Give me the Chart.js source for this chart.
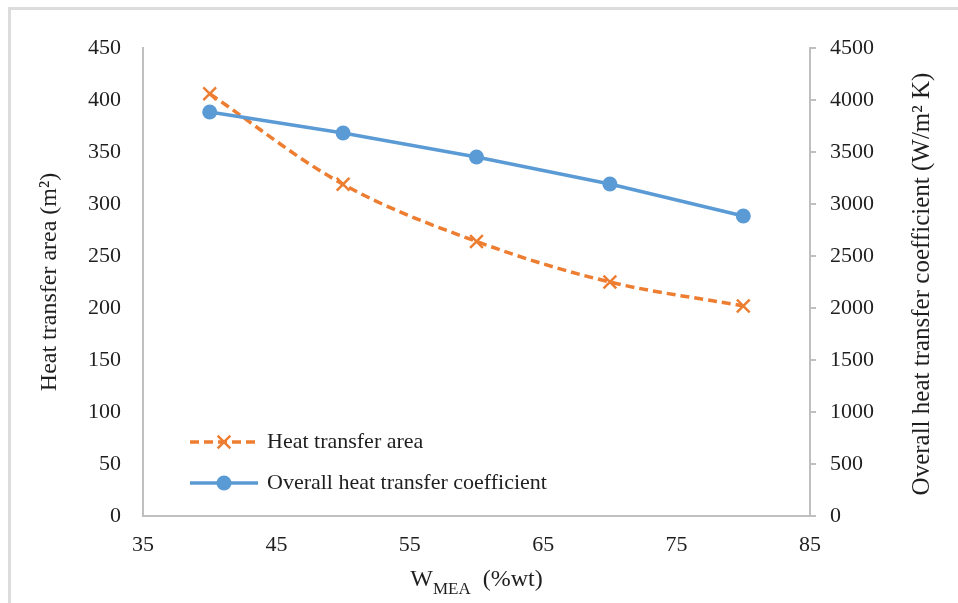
<!DOCTYPE html>
<html>
<head>
<meta charset="utf-8">
<script src="https://cdn.jsdelivr.net/npm/chart.js@4"></script>
<style>
  body { margin: 0; background: #fff; }
  #wrap { width: 958px; height: 603px; }
</style>
</head>
<body>
<div id="wrap"><canvas id="myChart" width="958" height="603"></canvas></div>
<script>
// data
const wMEA = [40, 50, 60, 70, 80];
const heatArea = [406, 319, 264, 225, 202];
const heatCoeff = [3885, 3683, 3452, 3192, 2885];
const xTicks = [35, 45, 55, 65, 75, 85];
const seriesNames = ['Heat transfer area', 'Overall heat transfer coefficient'];

const FONT = "'Liberation Serif', 'Times New Roman', serif";
const TEXT = '#1f1f1f';
const AXIS = '#bfbfbf';

// frame, right / bottom titles and legend drawn by hand
const extras = {
  id: 'extras',
  beforeDraw(chart) {
    const ctx = chart.ctx;
    ctx.save();
    ctx.fillStyle = '#dcdcdc';
    ctx.fillRect(8, 7, 3, 596);
    ctx.fillRect(8, 7, 950, 3);
    ctx.restore();
  },
  afterDraw(chart) {
    const ctx = chart.ctx;
    const a = chart.chartArea;
    ctx.save();
    ctx.fillStyle = TEXT;

    // right axis title, reads bottom to top
    ctx.save();
    ctx.translate(922, (a.top + a.bottom) / 2 + 2);
    ctx.rotate(-Math.PI / 2);
    ctx.font = '25px ' + FONT;
    ctx.textAlign = 'center';
    ctx.textBaseline = 'middle';
    ctx.fillText('Overall heat transfer coefficient (W/m² K)', 0, 0);
    ctx.restore();

    // x axis title with subscript
    const big = '24px ' + FONT, small = '17px ' + FONT;
    ctx.font = big;
    const wW = ctx.measureText('W').width;
    const wRest = ctx.measureText('  (%wt)').width;
    ctx.font = small;
    const wSub = ctx.measureText('MEA').width;
    let x = (a.left + a.right) / 2 - (wW + wSub + wRest) / 2;
    const base = 586;
    ctx.textAlign = 'left';
    ctx.textBaseline = 'alphabetic';
    ctx.font = big;
    ctx.fillText('W', x, base);
    x += wW;
    ctx.font = small;
    ctx.fillText('MEA', x, base + 8);
    x += wSub;
    ctx.font = big;
    ctx.fillText('  (%wt)', x, base);

    // legend
    const rows = [a.bottom - 74, a.bottom - 33];
    chart.data.datasets.forEach((ds, i) => {
      const y = rows[i];
      const x0 = a.left + 47, x1 = a.left + 115;
      ctx.strokeStyle = ds.borderColor;
      ctx.lineWidth = ds.borderWidth;
      ctx.setLineDash(ds.borderDash || []);
      ctx.beginPath();
      ctx.moveTo(x0, y);
      ctx.lineTo(x1, y);
      ctx.stroke();
      ctx.setLineDash([]);
      const cx = (x0 + x1) / 2;
      if (ds.pointStyle === 'crossRot') {
        const r = ds.pointRadius * 0.707;
        ctx.lineWidth = ds.pointBorderWidth;
        ctx.beginPath();
        ctx.moveTo(cx - r, y - r);
        ctx.lineTo(cx + r, y + r);
        ctx.moveTo(cx - r, y + r);
        ctx.lineTo(cx + r, y - r);
        ctx.stroke();
      } else {
        ctx.fillStyle = ds.pointBackgroundColor;
        ctx.beginPath();
        ctx.arc(cx, y, ds.pointRadius, 0, Math.PI * 2);
        ctx.fill();
      }
      ctx.fillStyle = TEXT;
      ctx.font = '22px ' + FONT;
      ctx.textBaseline = 'middle';
      ctx.fillText(ds.label, x1 + 9, y);
    });
    ctx.restore();
  }
};

const ctx = document.getElementById('myChart');

new Chart(ctx, {
  type: 'line',
  data: {
    datasets: [{
      label: seriesNames[0],
      data: wMEA.map((w, i) => ({ x: w, y: heatArea[i] })),
      yAxisID: 'y',
      borderColor: '#ED7D31',
      borderWidth: 3.5,
      borderDash: [9, 5],
      tension: 0.35,
      pointStyle: 'crossRot',
      pointRadius: 9,
      pointBorderWidth: 2.5,
      pointBorderColor: '#ED7D31',
      pointBackgroundColor: '#ED7D31',
      order: 2
    }, {
      label: seriesNames[1],
      data: wMEA.map((w, i) => ({ x: w, y: heatCoeff[i] })),
      yAxisID: 'y1',
      borderColor: '#5B9BD5',
      borderWidth: 3.5,
      tension: 0,
      pointStyle: 'circle',
      pointRadius: 7.5,
      pointBorderWidth: 0,
      pointBackgroundColor: '#5B9BD5',
      order: 1
    }]
  },
  options: {
    responsive: false,
    animation: false,
    layout: { padding: { top: 48, left: 0, right: 0, bottom: 0 } },
    plugins: {
      legend: { display: false },
      tooltip: { enabled: false }
    },
    scales: {
      x: {
        type: 'linear',
        min: 35,
        max: 85,
        afterBuildTicks: (s) => { s.ticks = xTicks.map(v => ({ value: v })); },
        afterFit: (s) => { s.height = 87; },
        grid: { display: false, drawTicks: false },
        border: { display: true, color: AXIS, width: 2 },
        ticks: { color: TEXT, font: { family: FONT, size: 22 }, padding: 16, maxRotation: 0 }
      },
      y: {
        position: 'left',
        min: 0,
        max: 450,
        afterFit: (s) => { s.width = 143; },
        grid: { display: false, drawTicks: false },
        border: { display: true, color: AXIS, width: 2 },
        ticks: { stepSize: 50, color: TEXT, font: { family: FONT, size: 22 }, padding: 22 },
        title: {
          display: true,
          text: 'Heat transfer area (m²)',
          color: TEXT,
          font: { family: FONT, size: 24 },
          padding: { top: 35, bottom: 0 }
        }
      },
      y1: {
        position: 'right',
        min: 0,
        max: 4500,
        afterFit: (s) => { s.width = 148; },
        grid: { display: true, drawOnChartArea: false, drawTicks: true, tickLength: 6, color: AXIS, lineWidth: 2 },
        border: { display: true, color: AXIS, width: 2 },
        ticks: { stepSize: 500, color: TEXT, font: { family: FONT, size: 22 }, padding: 14, callback: (v) => String(v) }
      }
    }
  },
  plugins: [extras]
});
</script>
</body>
</html>
